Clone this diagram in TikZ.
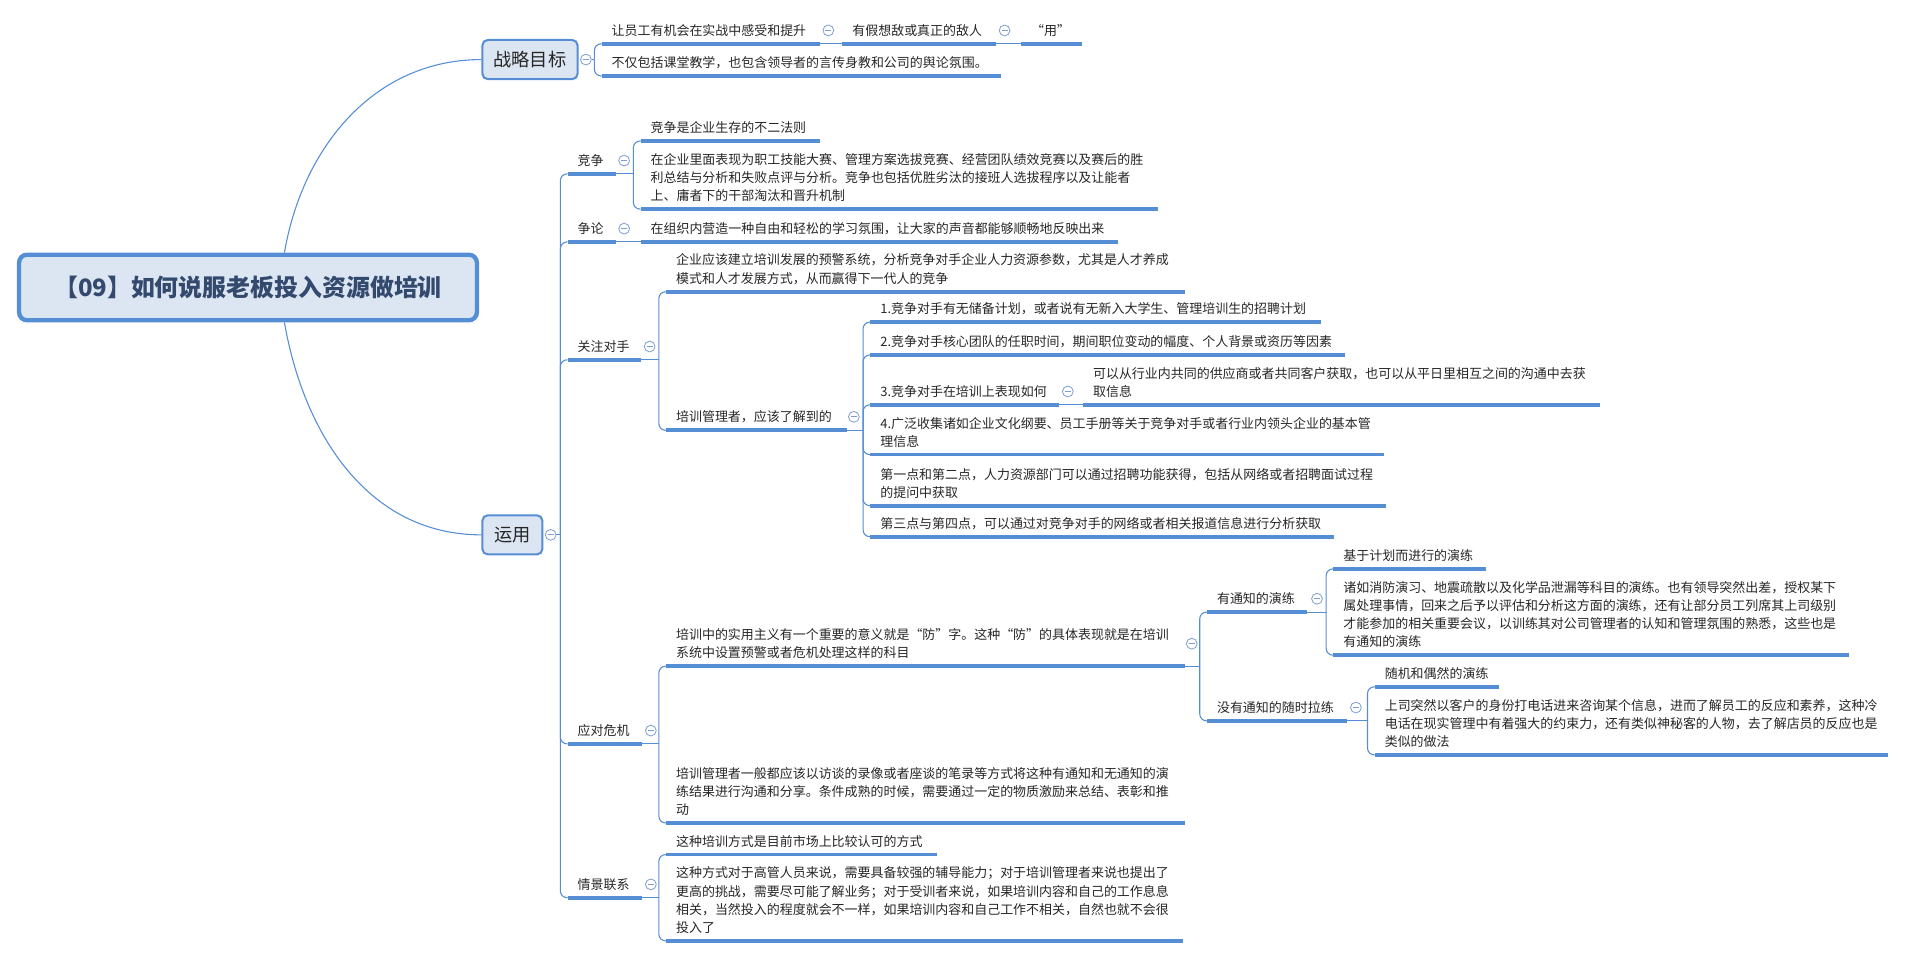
\documentclass[tikz,border=0pt]{standalone}
\usepackage{fontspec}
\setmainfont{Noto Sans CJK SC}
\definecolor{linec}{HTML}{558ED5}
\definecolor{boxc}{HTML}{DCE6F2}
\definecolor{foldc}{HTML}{7F9ED0}
\definecolor{textc}{HTML}{262626}
\definecolor{rootc}{HTML}{34496E}

\begin{document}
\begin{tikzpicture}[x=0.9pt, y=-0.9pt,
		conn/.style={draw=linec, line width=0.8pt},
		branch/.style={conn, rounded corners=5pt},
		uline/.style={draw=linec, line width=2.7pt},
		rootbox/.style={draw=linec, line width=3.2pt, fill=boxc, rounded corners=6pt, minimum width=339pt, minimum height=48.6pt, text=rootc, font=\fontsize{17.7}{21}\selectfont\bfseries},
		mainbox/.style={draw=linec, line width=1.5pt, fill=boxc, rounded corners=4pt, minimum height=29pt, text=textc, font=\fontsize{13.5}{16}\selectfont},
		topic/.style={anchor=south west, inner xsep=7.2pt, inner ysep=5.2pt, align=left, text=textc, font=\fontsize{9.6}{13.5}\selectfont,
			append after command={(\tikzlastnode.south west) edge[uline] (\tikzlastnode.south east)}},
		fold/.style={circle, draw=foldc, fill=white, line width=0.6pt, minimum size=8pt, inner sep=0pt,
			path picture={\draw[foldc, line width=0.6pt] ([xshift=-2.3pt]path picture bounding box.center) -- ([xshift=2.3pt]path picture bounding box.center);}}]
		\useasboundingbox (0,0) rectangle (1568,788);

		\node[rootbox] (root) at (204,236.5) {【09】如何说服老板投入资源做培训};
		\node[mainbox, minimum width=70.5pt] (zlmb) at (436,49) {战略目标};
		\node[mainbox, minimum width=44.4pt] (yy) at (421.5,440) {运用};
		\node[fold] (zlmb-f) at ([xshift=5.4pt]zlmb.east) {};
		\node[fold] (yy-f) at ([xshift=5.4pt]yy.east) {};
		\draw[conn] ([xshift=27pt]root.north) .. controls +(15,-87) and +(-88,0) .. (zlmb.west);
		\draw[conn] ([xshift=27pt]root.south) .. controls +(16,92) and +(-93,0) .. (yy.west);

		\node[topic, text width=146.7pt] (g1) at (495,36) {让员工有机会在实战中感受和提升};
		\node[fold] (g1-f) at ([xshift=6.3pt]g1.east) {};
		\node[topic, text width=99pt] (g2) at (693,36) {有假想敌或真正的敌人};
		\node[fold] (g2-f) at ([xshift=6.3pt]g2.east) {};
		\node[topic, text width=30.6pt] (g3) at (840,36) {“用”};
		\node[topic, text width=280.8pt] (g4) at (495,62.5) {不仅包括课堂教学，也包含领导者的言传身教和公司的舆论氛围。};
		\path (zlmb-f.east -| g1.south west) ++(-5.4pt,0) coordinate (zlmb-t);
		\draw[conn] (zlmb-f.east) -- (zlmb-t);
		\draw[branch] (zlmb-t) |- (g1.south west);
		\draw[branch] (zlmb-t) |- (g4.south west);
		\draw[conn] (g1.south east) -- (g2.south west);
		\draw[conn] (g2.south east) -- (g3.south west);

		\node[topic, text width=20.7pt] (jz) at (467,143) {竞争};
		\node[fold] (jz-f) at ([xshift=6.3pt]jz.east) {};
		\node[topic, text width=117.9pt] (jz1) at (527,116) {竞争是企业生存的不二法则};
		\node[topic, text width=368.1pt] (jz2) at (527,172) {在企业里面表现为职工技能大赛、管理方案选拔竞赛、经营团队绩效竞赛以及赛后的胜\\利总结与分析和失败点评与分析。竞争也包括优胜劣汰的接班人选拔程序以及让能者\\上、庸者下的干部淘汰和晋升机制};
		\node[topic, text width=20.7pt] (zl) at (467,199) {争论};
		\node[fold] (zl-f) at ([xshift=6.3pt]zl.east) {};
		\node[topic, text width=338.4pt] (zl1) at (527,199) {在组织内营造一种自由和轻松的学习氛围，让大家的声音都能够顺畅地反映出来};

		\node[topic, text width=39.6pt] (gzds) at (467,296) {关注对手};
		\node[fold] (gzds-f) at ([xshift=6.3pt]gzds.east) {};
		\node[topic, text width=369pt] (gzds1) at (548,240) {企业应该建立培训发展的预警系统，分析竞争对手企业人力资源参数，尤其是人才养成\\模式和人才发展方式，从而赢得下一代人的竞争};
		\node[topic, text width=118.8pt] (gzds2) at (548,354) {培训管理者，应该了解到的};
		\node[fold] (gzds2-f) at ([xshift=5.4pt]gzds2.east) {};
		\node[topic, text width=318.6pt] (pm1) at (716,265) {1.竞争对手有无储备计划，或者说有无新入大学生、管理培训生的招聘计划};
		\node[topic, text width=336.6pt] (pm2) at (716,292) {2.竞争对手核心团队的任职时间，期间职位变动的幅度、个人背景或资历等因素};
		\node[topic, text width=125.1pt] (pm3) at (716,333) {3.竞争对手在培训上表现如何};
		\node[fold] (pm3-f) at ([xshift=6.3pt]pm3.east) {};
		\node[topic, text width=368.1pt] (pm3a) at (891,333) {可以从行业内共同的供应商或者共同客户获取，也可以从平日里相互之间的沟通中去获\\取信息};
		\node[topic, text width=365.4pt] (pm4) at (716,374) {4.广泛收集诸如企业文化纲要、员工手册等关于竞争对手或者行业内领头企业的基本管\\理信息};
		\node[topic, text width=367.2pt] (pm5) at (716,416) {第一点和第二点，人力资源部门可以通过招聘功能获得，包括从网络或者招聘面试过程\\的提问中获取};
		\node[topic, text width=328.5pt] (pm6) at (716,441.5) {第三点与第四点，可以通过对竞争对手的网络或者相关报道信息进行分析获取};

		\node[topic, text width=40.5pt] (ydwj) at (467,612) {应对危机};
		\node[fold] (ydwj-f) at ([xshift=6.3pt]ydwj.east) {};
		\node[topic, text width=369pt] (ydwj1) at (548,548) {培训中的实用主义有一个重要的意义就是“防”字。这种“防”的具体表现就是在培训\\系统中设置预警或者危机处理这样的科目};
		\node[fold] (ydwj1-f) at ([xshift=5.4pt]ydwj1.east) {};
		\node[topic, text width=59.4pt] (ytz) at (993,503.5) {有通知的演练};
		\node[fold] (ytz-f) at ([xshift=7.2pt]ytz.east) {};
		\node[topic, text width=98.1pt] (ytz1) at (1097,468) {基于计划而进行的演练};
		\node[topic, text width=367.2pt] (ytz2) at (1097,539) {诸如消防演习、地震疏散以及化学品泄漏等科目的演练。也有领导突然出差，授权某下\\属处理事情，回来之后予以评估和分析这方面的演练，还有让部分员工列席其上司级别\\才能参加的相关重要会议，以训练其对公司管理者的认知和管理氛围的熟悉，这些也是\\有通知的演练};
		\node[topic, text width=89.1pt] (mtz) at (993,593) {没有通知的随时拉练};
		\node[fold] (mtz-f) at ([xshift=6.3pt]mtz.east) {};
		\node[topic, text width=77.4pt] (mtz1) at (1131,565) {随机和偶然的演练};
		\node[topic, text width=365.4pt] (mtz2) at (1131,621) {上司突然以客户的身份打电话进来咨询某个信息，进而了解员工的反应和素养，这种冷\\电话在现实管理中有着强大的约束力，还有类似神秘客的人物，去了解店员的反应也是\\类似的做法};
		\node[topic, text width=369pt] (ydwj2) at (548,677) {培训管理者一般都应该以访谈的录像或者座谈的笔录等方式将这种有通知和无通知的演\\练结果进行沟通和分享。条件成熟的时候，需要通过一定的物质激励来总结、表彰和推\\动};

		\node[topic, text width=40.5pt] (qjlx) at (467,738.5) {情景联系};
		\node[fold] (qjlx-f) at ([xshift=6.3pt]qjlx.east) {};
		\node[topic, text width=185.4pt] (qjlx1) at (548,703) {这种培训方式是目前市场上比较认可的方式};
		\node[topic, text width=368.1pt] (qjlx2) at (548,774) {这种方式对于高管人员来说，需要具备较强的辅导能力；对于培训管理者来说也提出了\\更高的挑战，需要尽可能了解业务；对于受训者来说，如果培训内容和自己的工作息息\\相关，当然投入的程度就会不一样，如果培训内容和自己工作不相关，自然也就不会很\\投入了};

		\path (yy-f.east -| jz.south west) ++(-5.4pt,0) coordinate (yy-t);
		\draw[conn] (yy-f.east) -- (yy-t);
		\draw[branch] (yy-t) |- (jz.south west);
		\draw[branch] (yy-t) |- (zl.south west);
		\draw[branch] (yy-t) |- (gzds.south west);
		\draw[branch] (yy-t) |- (ydwj.south west);
		\draw[branch] (yy-t) |- (qjlx.south west);

		\path (jz.south east -| jz1.south west) ++(-5.4pt,0) coordinate (jz-t);
		\draw[conn] (jz.south east) -- (jz-t);
		\draw[branch] (jz-t) |- (jz1.south west);
		\draw[branch] (jz-t) |- (jz2.south west);
		\draw[conn] (zl.south east) -- (zl1.south west);

		\path (gzds.south east -| gzds1.south west) ++(-5.4pt,0) coordinate (gzds-t);
		\draw[conn] (gzds.south east) -- (gzds-t);
		\draw[branch] (gzds-t) |- (gzds1.south west);
		\draw[branch] (gzds-t) |- (gzds2.south west);
		\path (gzds2.south east -| pm1.south west) ++(-5.4pt,0) coordinate (gzds2-t);
		\draw[conn] (gzds2.south east) -- (gzds2-t);
		\draw[branch] (gzds2-t) |- (pm1.south west);
		\draw[branch] (gzds2-t) |- (pm2.south west);
		\draw[branch] (gzds2-t) |- (pm3.south west);
		\draw[branch] (gzds2-t) |- (pm4.south west);
		\draw[branch] (gzds2-t) |- (pm5.south west);
		\draw[branch] (gzds2-t) |- (pm6.south west);
		\draw[conn] (pm3.south east) -- (pm3a.south west);

		\path (ydwj.south east -| ydwj1.south west) ++(-5.4pt,0) coordinate (ydwj-t);
		\draw[conn] (ydwj.south east) -- (ydwj-t);
		\draw[branch] (ydwj-t) |- (ydwj1.south west);
		\draw[branch] (ydwj-t) |- (ydwj2.south west);
		\path (ydwj1.south east -| ytz.south west) ++(-5.4pt,0) coordinate (ydwj1-t);
		\draw[conn] (ydwj1.south east) -- (ydwj1-t);
		\draw[branch] (ydwj1-t) |- (ytz.south west);
		\draw[branch] (ydwj1-t) |- (mtz.south west);
		\path (ytz.south east -| ytz1.south west) ++(-5.4pt,0) coordinate (ytz-t);
		\draw[conn] (ytz.south east) -- (ytz-t);
		\draw[branch] (ytz-t) |- (ytz1.south west);
		\draw[branch] (ytz-t) |- (ytz2.south west);
		\path (mtz.south east -| mtz1.south west) ++(-5.4pt,0) coordinate (mtz-t);
		\draw[conn] (mtz.south east) -- (mtz-t);
		\draw[branch] (mtz-t) |- (mtz1.south west);
		\draw[branch] (mtz-t) |- (mtz2.south west);

		\path (qjlx.south east -| qjlx1.south west) ++(-5.4pt,0) coordinate (qjlx-t);
		\draw[conn] (qjlx.south east) -- (qjlx-t);
		\draw[branch] (qjlx-t) |- (qjlx1.south west);
		\draw[branch] (qjlx-t) |- (qjlx2.south west);
	\end{tikzpicture}
\end{document}
